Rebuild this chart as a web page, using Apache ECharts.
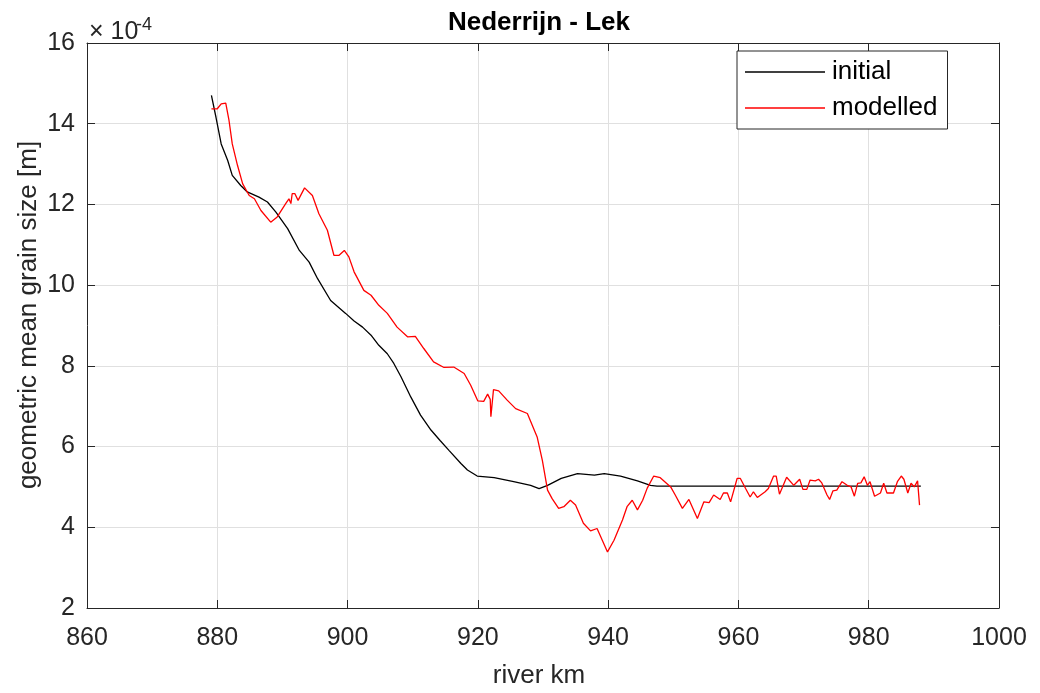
<!DOCTYPE html>
<html>
<head>
<meta charset="utf-8">
<script src="https://cdn.jsdelivr.net/npm/echarts@6/dist/echarts.min.js"></script>
<style>html,body{margin:0;padding:0;background:#fff;}#c{width:1040px;height:693px;}</style>
</head>
<body>
<div id="c"></div>
<script>
// Data (values in units of 1e-4 m)
var initialKm = [879.1, 879.8, 880.6, 881.6, 882.3, 883.6, 884.6, 886.4, 887.7, 889.0, 890.8, 892.6, 894.1, 895.4, 897.4, 899.7, 901.0, 902.3, 903.6, 904.8, 906.1, 907.1, 908.2, 909.7, 911.2, 912.8, 914.2, 915.6, 917.4, 918.4, 919.9, 922.5, 925.5, 928.1, 929.4, 930.7, 932.8, 935.3, 937.9, 939.4, 941.9, 944.5, 946.5, 947.5, 988.0];
var initialVal = [14.70, 14.16, 13.50, 13.09, 12.72, 12.47, 12.31, 12.18, 12.06, 11.81, 11.40, 10.86, 10.57, 10.16, 9.62, 9.30, 9.11, 8.96, 8.76, 8.51, 8.30, 8.06, 7.73, 7.23, 6.78, 6.41, 6.15, 5.90, 5.58, 5.42, 5.27, 5.23, 5.13, 5.04, 4.96, 5.04, 5.21, 5.33, 5.29, 5.33, 5.27, 5.15, 5.04, 5.02, 5.02];

var modelledKm = [879.1, 880.0, 880.6, 881.3, 881.8, 882.3, 883.1, 883.9, 884.9, 885.7, 886.7, 888.2, 889.2, 890.5, 891.0, 891.3, 891.5, 891.9, 892.4, 893.4, 894.6, 895.6, 896.9, 897.9, 898.7, 899.5, 900.2, 901.0, 902.5, 903.6, 904.8, 906.1, 907.6, 909.2, 910.4, 911.7, 913.2, 914.8, 916.3, 917.9, 918.9, 920.0, 920.9, 921.5, 921.9, 922.0, 922.4, 923.2, 924.5, 925.8, 927.6, 929.1, 929.9, 930.7, 931.4, 932.4, 933.2, 934.2, 935.0, 936.2, 937.3, 938.3, 939.1, 939.9, 940.9, 942.2, 942.9, 943.7, 944.5, 945.3, 946.0, 947.0, 948.0, 949.6, 950.3, 951.4, 952.4, 953.7, 954.7, 955.5, 956.2, 957.2, 957.7, 958.3, 958.8, 959.8, 960.3, 961.1, 961.8, 962.3, 962.9, 964.1, 964.6, 965.4, 965.8, 966.3, 967.4, 968.5, 969.4, 969.9, 970.5, 971.0, 971.8, 972.3, 972.8, 973.6, 974.0, 974.5, 975.1, 975.9, 976.7, 977.3, 977.8, 978.3, 978.8, 979.3, 979.8, 980.2, 980.9, 981.8, 982.3, 982.8, 983.8, 984.4, 985.0, 985.4, 986.0, 986.5, 987.0, 987.5, 987.8];
var modelledVal = [14.37, 14.37, 14.49, 14.51, 14.08, 13.50, 12.97, 12.51, 12.22, 12.14, 11.85, 11.56, 11.69, 12.02, 12.14, 12.02, 12.27, 12.27, 12.10, 12.41, 12.22, 11.77, 11.36, 10.74, 10.74, 10.86, 10.70, 10.33, 9.87, 9.75, 9.50, 9.30, 8.96, 8.72, 8.73, 8.43, 8.10, 7.96, 7.97, 7.81, 7.52, 7.13, 7.12, 7.30, 7.17, 6.74, 7.41, 7.38, 7.15, 6.94, 6.82, 6.24, 5.66, 4.92, 4.71, 4.47, 4.51, 4.67, 4.55, 4.10, 3.91, 3.97, 3.68, 3.39, 3.68, 4.18, 4.51, 4.67, 4.43, 4.67, 4.97, 5.27, 5.23, 5.00, 4.80, 4.47, 4.69, 4.22, 4.63, 4.61, 4.80, 4.69, 4.85, 4.85, 4.63, 5.21, 5.21, 4.96, 4.75, 4.88, 4.74, 4.88, 4.96, 5.27, 5.27, 4.82, 5.24, 5.04, 5.19, 4.94, 4.94, 5.17, 5.15, 5.19, 5.10, 4.80, 4.69, 4.90, 4.92, 5.13, 5.04, 5.00, 4.77, 5.09, 5.10, 5.25, 5.04, 5.13, 4.77, 4.85, 5.09, 4.85, 4.85, 5.13, 5.27, 5.19, 4.85, 5.09, 5.00, 5.15, 4.55];

var seriesNames = ['initial', 'modelled'];
var titleText = 'Nederrijn - Lek';
var xName = 'river km';
var yName = 'geometric mean grain size [m]';
var xMin = 860, xMax = 1000, xStep = 20;
var yMin = 2, yMax = 16, yStep = 2;

function pairs(xs, ys) { return xs.map(function (x, i) { return [x, ys[i]]; }); }

var FONT = 'Liberation Sans, Arial, Helvetica, sans-serif';
var AX = '#262626';
var chart = echarts.init(document.getElementById('c'), null, { renderer: 'canvas' });

function mkAxis(pos, isX, showLabel) {
  return {
    type: 'value',
    position: pos,
    min: isX ? xMin : yMin,
    max: isX ? xMax : yMax,
    interval: isX ? xStep : yStep,
    axisLine: { show: true, onZero: false, lineStyle: { color: AX, width: 1 } },
    axisTick: { show: true, inside: true, length: 8, lineStyle: { color: AX, width: 1 } },
    axisLabel: { show: showLabel, color: AX, fontSize: 25, fontFamily: FONT, margin: isX ? 18 : 12,
      formatter: function (v) { return String(v); } },
    splitLine: { show: showLabel, lineStyle: { color: '#e0e0e0', width: 1 } }
  };
}

var option = {
  animation: false,
  backgroundColor: '#ffffff',
  grid: { left: 87, right: 41, top: 43, bottom: 85, containLabel: false, outerBoundsMode: 'none' },
  xAxis: [mkAxis('bottom', true, true), mkAxis('top', true, false)],
  yAxis: [mkAxis('left', false, true), mkAxis('right', false, false)],
  legend: {
    data: seriesNames,
    orient: 'vertical',
    left: 737,
    top: 51,
    icon: 'rect',
    itemWidth: 80,
    itemHeight: 1.4,
    itemGap: 10,
    padding: [8, 10, 8, 8],
    borderColor: AX,
    borderWidth: 1,
    backgroundColor: '#ffffff',
    textStyle: { color: '#000', fontSize: 26, fontFamily: FONT, lineHeight: 25, padding: [0, 0, 0, 2] }
  },
  graphic: [
    { type: 'text', x: 539, y: 23, style: { text: titleText, fill: '#000', font: 'bold 26px ' + FONT, align: 'center', verticalAlign: 'middle' } },
    { type: 'text', x: 539, y: 676, style: { text: xName, fill: AX, font: '26px ' + FONT, align: 'center', verticalAlign: 'middle' } },
    { type: 'text', x: 29, y: 315, rotation: Math.PI / 2, style: { text: yName, fill: AX, font: '26px ' + FONT, align: 'center', verticalAlign: 'middle' } },
    { type: 'text', x: 89, y: 32, style: { text: '\u00d7 10', fill: AX, font: '25px ' + FONT, align: 'left', verticalAlign: 'middle' } },
    { type: 'text', x: 136, y: 25, style: { text: '-4', fill: AX, font: '18px ' + FONT, align: 'left', verticalAlign: 'middle' } }
  ],
  series: [
    { name: seriesNames[0], type: 'line', xAxisIndex: 0, yAxisIndex: 0, data: pairs(initialKm, initialVal), symbol: 'none', showSymbol: false, lineStyle: { color: '#000000', width: 1.3 }, itemStyle: { color: '#000000' }, z: 3 },
    { name: seriesNames[1], type: 'line', xAxisIndex: 0, yAxisIndex: 0, data: pairs(modelledKm, modelledVal), symbol: 'none', showSymbol: false, lineStyle: { color: '#ff0000', width: 1.3 }, itemStyle: { color: '#ff0000' }, z: 4 }
  ]
};
chart.setOption(option);
</script>
</body>
</html>
